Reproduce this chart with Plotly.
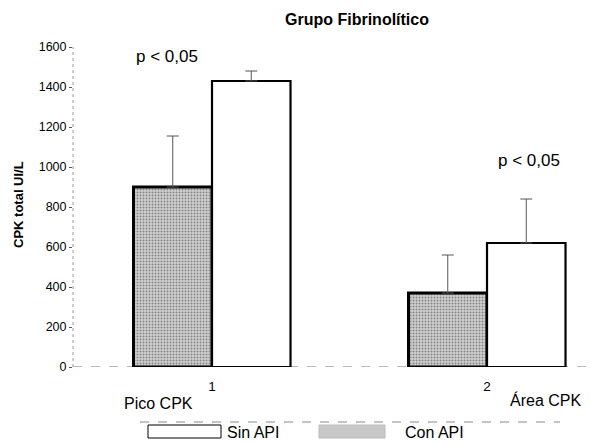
import plotly.graph_objects as go

# ---- data ----
groups = [1, 2]
con_api = [900, 370]
con_api_err = [255, 190]
sin_api = [1430, 620]
sin_api_err = [50, 220]
y_ticks = [0, 200, 400, 600, 800, 1000, 1200, 1400, 1600]
group_labels = ["Pico CPK", "Área CPK"]
p_texts = ["p < 0,05", "p < 0,05"]
p_pos = [(0.836, 1555), (2.152, 1035)]

FONT = "Liberation Sans, Arial, sans-serif"
W, H = 591, 445
ML, MR, MT, MB = 73, 1, 47, 78
PW = W - ML - MR
PH = H - MT - MB

def px(xp):
    return (xp - ML) / PW

def py(yp):
    return (H - MB - yp) / PH

bw = 0.2855

fig = go.Figure()
fig.add_trace(go.Bar(
    x=groups, y=con_api, name="Con API", offset=-bw, width=bw,
    marker=dict(color="#d0d0d0", line=dict(color="black", width=3),
                pattern=dict(shape=".", fgcolor="#3a3a3a", bgcolor="#d0d0d0",
                             size=3, solidity=0.35)),
    error_y=dict(type="data", symmetric=False, array=con_api_err,
                 arrayminus=[0, 0], color="#555", thickness=1, width=6),
    showlegend=False,
))
fig.add_trace(go.Bar(
    x=groups, y=sin_api, name="Sin API", offset=0, width=bw,
    marker=dict(color="white", line=dict(color="black", width=2.2)),
    error_y=dict(type="data", symmetric=False, array=sin_api_err,
                 arrayminus=[0, 0], color="#555", thickness=1, width=6),
    showlegend=False,
))

shapes = []
# dotted axis lines
shapes.append(dict(type="line", xref="paper", yref="y", x0=0, x1=1, y0=0, y1=0,
                   line=dict(color="#777", width=1, dash="dash"), layer="below"))
shapes.append(dict(type="line", xref="paper", yref="y", x0=0, x1=0, y0=0, y1=1600,
                   line=dict(color="#999", width=1, dash="dot"), layer="below"))
# legend
shapes.append(dict(type="line", xref="paper", yref="paper", x0=px(140), x1=px(560),
                   y0=py(422), y1=py(422), line=dict(color="#888", width=1, dash="dash")))
shapes.append(dict(type="rect", xref="paper", yref="paper", x0=px(148), x1=px(221),
                   y0=py(438), y1=py(425), line=dict(color="black", width=1),
                   fillcolor="white"))
shapes.append(dict(type="rect", xref="paper", yref="paper", x0=px(319), x1=px(385),
                   y0=py(438), y1=py(425), line=dict(color="#bbb", width=1),
                   fillcolor="#c8c8c8"))

def note(text, x, y, size, xanchor="center", angle=0):
    return dict(text=text, xref="paper", yref="paper", x=px(x), y=py(y),
                xanchor=xanchor, yanchor="middle", textangle=angle,
                showarrow=False, font=dict(size=size, color="black"))

annotations = [
    note("<b>Grupo Fibrinolítico</b>", 357, 19, 16),
    note("<b>CPK total UI/L</b>", 18, 205, 13, angle=-90),
    note(group_labels[0], 158, 403, 16),
    note(group_labels[1], 545, 400, 16),
    note("Sin API", 225, 432, 16, xanchor="left"),
    note("Con API", 403, 432, 16, xanchor="left"),
]
for t, (xx, yy) in zip(p_texts, p_pos):
    annotations.append(dict(text=t, x=xx, y=yy, xref="x", yref="y", showarrow=False,
                            xanchor="center", yanchor="middle",
                            font=dict(size=17, color="black")))

fig.update_layout(
    width=W, height=H,
    margin=dict(l=ML, r=MR, t=MT, b=MB),
    paper_bgcolor="white", plot_bgcolor="white",
    font=dict(family=FONT, color="black"),
    barmode="overlay",
    shapes=shapes,
    annotations=annotations,
    xaxis=dict(range=[0.4945, 2.3745], tickmode="array", tickvals=groups,
               ticktext=["1", "2"], showgrid=False, zeroline=False, showline=False,
               ticks="", ticklabelstandoff=9, tickfont=dict(size=13.5, color="black")),
    yaxis=dict(range=[0, 1600], tickmode="array", tickvals=y_ticks,
               showgrid=False, zeroline=False, showline=False,
               ticks="outside", ticklen=3, tickcolor="#555", tickwidth=1,
               tickfont=dict(size=12.5, color="black")),
)

fig.write_html("out.html")
